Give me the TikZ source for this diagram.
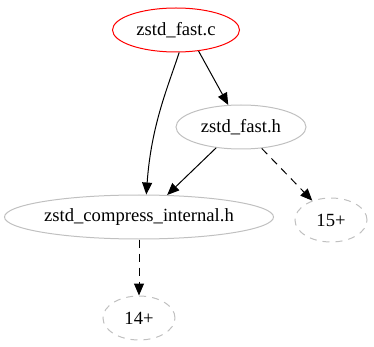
\documentclass[tikz,border=0pt]{standalone}
\usepackage{fontspec}
\setmainfont{Liberation Serif}
\usepackage{tikz}
\usetikzlibrary{shapes.geometric,arrows.meta,positioning}
\definecolor{incred}{RGB}{255,0,0}
\definecolor{incgray}{RGB}{192,192,192}
\definecolor{incdark}{RGB}{0,0,0}
\tikzset{
  filenode/.style={ellipse,draw=#1,line width=1pt,inner sep=0pt,
    minimum height=44pt,font=\fontsize{18.6}{20}\selectfont},
  morenode/.style={filenode=incgray,dash pattern=on 7pt off 6pt,minimum width=72pt},
  incarrow/.style={-{Triangle[length=12pt,width=10pt]},line width=1pt,color=incdark},
  incdashed/.style={incarrow,dash pattern=on 8pt off 6pt},
}
\begin{document}
\begin{tikzpicture}[x=1pt,y=-1pt]
\useasboundingbox (0,0) rectangle (374,347);

% -- files ---------------------------------------------------------------
\node[filenode=incred,  minimum width=127pt] (fastc) at (176,30)  {zstd\_fast.c};
\node[filenode=incgray, minimum width=130pt] (fasth) at (241,127) {zstd\_fast.h};
\node[filenode=incgray, minimum width=269pt] (cint)  at (139,217) {zstd\_compress\_internal.h};

% -- collapsed includes --------------------------------------------------
\node[morenode] (more15) at (331,220) {15+};
\node[morenode] (more14) at (139,318) {14+};

% -- include edges -------------------------------------------------------
\draw[incarrow] (fastc.-43) -- (fasth.120);
\draw[incarrow] (fastc.-82) .. controls +(-11,34) and +(5,-70) .. (cint.72);
\draw[incarrow] (fasth.-140) -- (cint.38);
\draw[incdashed] (fasth) -- (more15);
\draw[incdashed] (cint) -- (more14);

\end{tikzpicture}
\end{document}
